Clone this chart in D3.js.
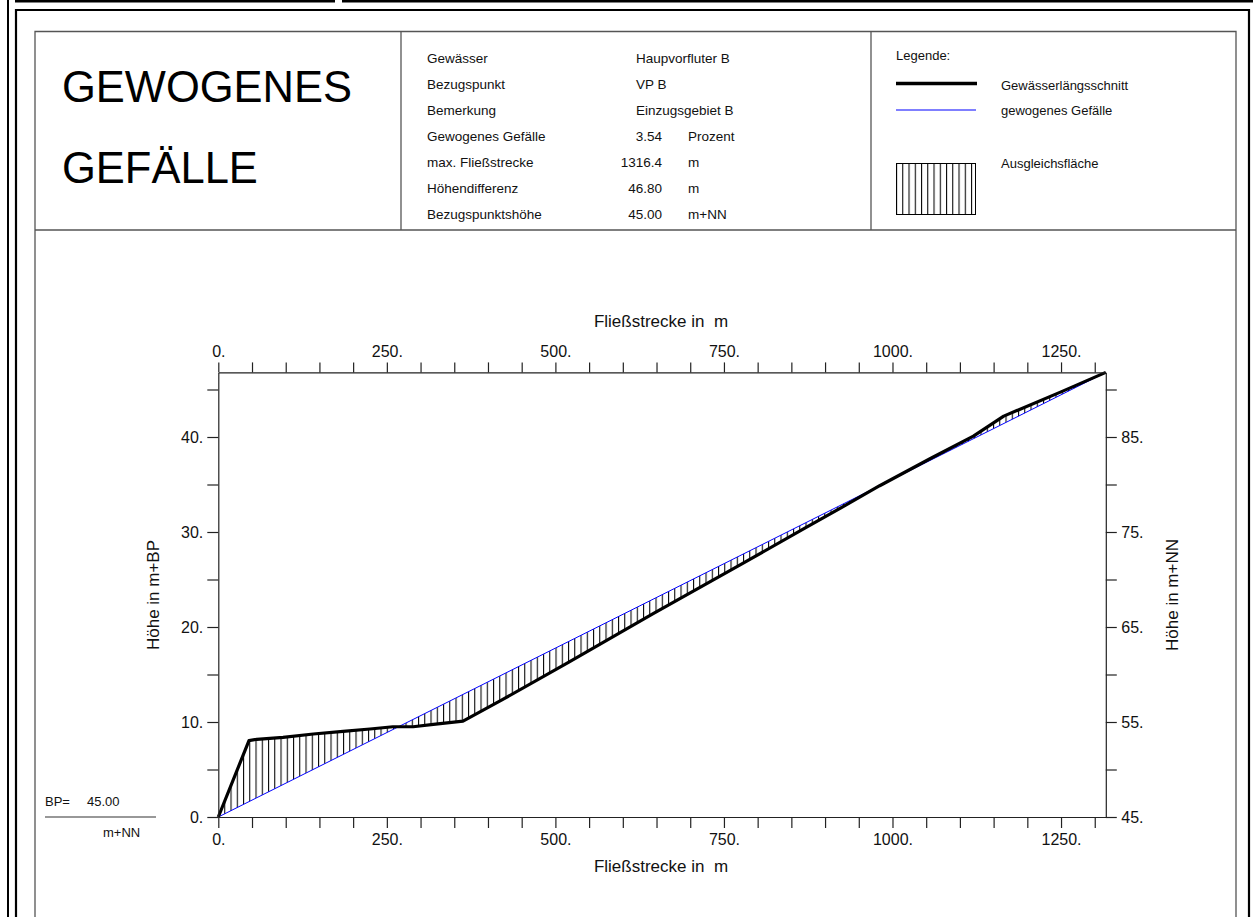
<!DOCTYPE html>
<html lang="de">
<head>
<meta charset="UTF-8">
<title>Gewogenes Gefälle</title>
<script src="https://d3js.org/d3.v7.min.js"></script>
<style>
  body { margin: 0; background: #fff; }
  svg { display: block; font-family: "Liberation Sans", Arial, sans-serif; }
  .axis path, .axis line { stroke: #222; stroke-width: 1.2; }
  .axis text { font-size: 16px; fill: #111; font-family: "Liberation Sans", Arial, sans-serif; }
  .small { font-size: 13px; fill: #111; }
  .info { font-size: 13.5px; fill: #111; }
  .title { font-size: 17px; fill: #111; white-space: pre; }
</style>
</head>
<body>
<svg width="1253" height="917"></svg>
<script>
// Gewässerlängsschnitt: Fließstrecke (m) und Höhe (m+BP)
const stations = [0, 45.5, 57, 96, 141, 185, 225, 259, 289, 319, 363, 420, 520, 645, 772, 870, 930, 981, 1057, 1120, 1165, 1250, 1316.4];
const heights  = [0, 8.04, 8.18, 8.39, 8.74, 9.02, 9.26, 9.5, 9.5, 9.75, 10.1, 12.3, 16.3, 21.4, 26.45, 30.4, 32.8, 34.87, 37.76, 40.1, 42.2, 44.75, 46.8];

// gewogenes Gefälle: Gerade vom Bezugspunkt bis zum Ende
const gefaelleX = [0, 1316.4];
const gefaelleY = [0, 46.8];

const bezugspunktHoehe = 45.00;

const infoLabels = ["Gewässer", "Bezugspunkt", "Bemerkung", "Gewogenes Gefälle", "max. Fließstrecke", "Höhendifferenz", "Bezugspunktshöhe"];
const infoValues = ["Haupvorfluter B", "VP B", "Einzugsgebiet B", "3.54", "1316.4", "46.80", "45.00"];
const infoUnits  = ["", "", "", "Prozent", "m", "m", "m+NN"];

const legendLabels = ["Gewässerlängsschnitt", "gewogenes Gefälle", "Ausgleichsfläche"];

const xLabelTicks = [0, 250, 500, 750, 1000, 1250];
const yLabelTicks = [0, 10, 20, 30, 40];

const svg = d3.select("svg");

// --- Rahmen ---
svg.append("rect").attr("x", 15).attr("y", 0).attr("width", 320).attr("height", 2.5).attr("fill", "#000");
svg.append("rect").attr("x", 342).attr("y", 0).attr("width", 911).attr("height", 2.5).attr("fill", "#000");
svg.append("line").attr("x1", 8).attr("x2", 8).attr("y1", 0).attr("y2", 917).attr("stroke", "#000").attr("stroke-width", 2);
svg.append("path").attr("d", "M16,917V10H1249V917").attr("fill", "none").attr("stroke", "#000").attr("stroke-width", 2.2);

const box = svg.append("g").attr("stroke", "#555").attr("stroke-width", 1.3).attr("fill", "none");
box.append("path").attr("d", "M35,917V31.5H1236V917");
box.append("line").attr("x1", 35).attr("x2", 1236).attr("y1", 230).attr("y2", 230);
box.append("line").attr("x1", 401).attr("x2", 401).attr("y1", 31.5).attr("y2", 230);
box.append("line").attr("x1", 871).attr("x2", 871).attr("y1", 31.5).attr("y2", 230);

// --- Titel ---
svg.append("text").attr("x", 62).attr("y", 102).attr("font-size", 43.5).attr("fill", "#000").text("GEWOGENES");
svg.append("text").attr("x", 62).attr("y", 183).attr("font-size", 43.5).attr("fill", "#000").text("GEFÄLLE");

// --- Info-Tabelle ---
const info = svg.append("g");
infoLabels.forEach((lab, i) => {
  const yy = 63 + i * 26;
  info.append("text").attr("class", "info").attr("x", 427).attr("y", yy).text(lab);
  if (i < 3) {
    info.append("text").attr("class", "info").attr("x", 636).attr("y", yy).text(infoValues[i]);
  } else {
    info.append("text").attr("class", "info").attr("x", 662).attr("y", yy).attr("text-anchor", "end").text(infoValues[i]);
    info.append("text").attr("class", "info").attr("x", 688).attr("y", yy).text(infoUnits[i]);
  }
});

// --- Schraffur-Muster ---
const defs = svg.append("defs");
function hatch(id, x0) {
  const p = defs.append("pattern").attr("id", id).attr("patternUnits", "userSpaceOnUse")
    .attr("x", x0).attr("y", 0).attr("width", 6.25).attr("height", 10);
  p.append("line").attr("x1", 0.5).attr("x2", 0.5).attr("y1", 0).attr("y2", 10)
    .attr("stroke", "#000").attr("stroke-width", 1.1);
}
hatch("hatchPlot", 218);
hatch("hatchLegend", 896);

// --- Legende ---
const leg = svg.append("g");
leg.append("text").attr("class", "small").attr("x", 896).attr("y", 59.5).text("Legende:");
leg.append("line").attr("x1", 896).attr("x2", 977).attr("y1", 83.5).attr("y2", 83.5).attr("stroke", "#000").attr("stroke-width", 3.5);
leg.append("text").attr("class", "small").attr("x", 1001).attr("y", 89.5).text(legendLabels[0]);
leg.append("line").attr("x1", 896).attr("x2", 976).attr("y1", 110).attr("y2", 110).attr("stroke", "#00f").attr("stroke-width", 1.2);
leg.append("text").attr("class", "small").attr("x", 1001).attr("y", 115).text(legendLabels[1]);
leg.append("rect").attr("x", 896.5).attr("y", 163.5).attr("width", 79).attr("height", 51)
  .attr("fill", "url(#hatchLegend)").attr("stroke", "#000").attr("stroke-width", 1);
leg.append("text").attr("class", "small").attr("x", 1001).attr("y", 167.5).text(legendLabels[2]);

// --- Diagramm ---
const x = d3.scaleLinear().domain([0, 1316.4]).range([218.3, 1105.8]);
const y = d3.scaleLinear().domain([0, 46.8]).range([817, 372.4]);
const yNN = d3.scaleLinear().domain([bezugspunktHoehe, bezugspunktHoehe + 46.8]).range([817, 372.4]);

const slopeAt = d3.scaleLinear().domain(gefaelleX).range(gefaelleY);
const profile = stations.map((s, i) => ({ s, h: heights[i] }));

svg.append("path").datum(profile)
  .attr("d", d3.area().x(d => x(d.s)).y0(d => y(slopeAt(d.s))).y1(d => y(d.h)))
  .attr("fill", "url(#hatchPlot)");

svg.append("path").datum(gefaelleX.map((s, i) => ({ s, h: gefaelleY[i] })))
  .attr("d", d3.line().x(d => x(d.s)).y(d => y(d.h)))
  .attr("fill", "none").attr("stroke", "#00f").attr("stroke-width", 1);

svg.append("path").datum(profile)
  .attr("d", d3.line().x(d => x(d.s)).y(d => y(d.h)))
  .attr("fill", "none").attr("stroke", "#000").attr("stroke-width", 3.2).attr("stroke-linejoin", "round");

const xTicks = d3.range(0, 1316.4, 50);
const fmtX = d => xLabelTicks.includes(d) ? d + "." : "";

svg.append("g").attr("class", "axis").attr("transform", "translate(0,372.4)")
  .call(d3.axisTop(x).tickValues(xTicks).tickSize(10).tickSizeOuter(0).tickPadding(5).tickFormat(fmtX));
svg.append("g").attr("class", "axis").attr("transform", "translate(0,817)")
  .call(d3.axisBottom(x).tickValues(xTicks).tickSize(11).tickSizeOuter(0).tickPadding(5.5).tickFormat(fmtX));

svg.append("g").attr("class", "axis").attr("transform", "translate(218.3,0)")
  .call(d3.axisLeft(y).tickValues(d3.range(0, 46.8, 5)).tickSize(11).tickSizeOuter(0).tickPadding(4)
    .tickFormat(d => yLabelTicks.includes(d) ? d + "." : ""));
svg.append("g").attr("class", "axis").attr("transform", "translate(1105.8,0)")
  .call(d3.axisRight(yNN).tickValues(d3.range(45, 91.8, 5)).tickSize(11).tickSizeOuter(0).tickPadding(4.5)
    .tickFormat(d => yLabelTicks.includes(d - bezugspunktHoehe) ? d + "." : ""));

// Achsentitel
svg.append("text").attr("class", "title").attr("x", 661).attr("y", 327).attr("text-anchor", "middle").text("Fließstrecke in  m");
svg.append("text").attr("class", "title").attr("x", 661).attr("y", 872).attr("text-anchor", "middle").text("Fließstrecke in  m");
svg.append("text").attr("class", "title").attr("transform", "translate(159,595) rotate(-90)").attr("text-anchor", "middle").text("Höhe in m+BP");
svg.append("text").attr("class", "title").attr("transform", "translate(1178,595) rotate(-90)").attr("text-anchor", "middle").text("Höhe in m+NN");

// Bezugspunkt
svg.append("text").attr("class", "small").attr("x", 45).attr("y", 806).text("BP=");
svg.append("text").attr("class", "small").attr("x", 87).attr("y", 806).text(bezugspunktHoehe.toFixed(2));
svg.append("line").attr("x1", 45).attr("x2", 156).attr("y1", 817).attr("y2", 817).attr("stroke", "#333").attr("stroke-width", 1.2);
svg.append("text").attr("class", "small").attr("x", 103).attr("y", 837).text("m+NN");
</script>
</body>
</html>
